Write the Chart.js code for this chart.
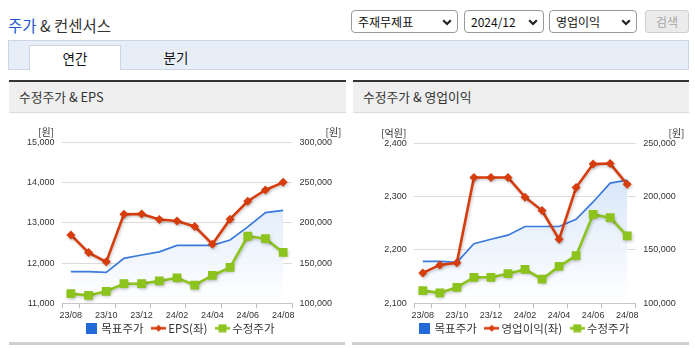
<!DOCTYPE html>
<html><head><meta charset="utf-8">
<script src="https://cdn.jsdelivr.net/npm/chart.js@4"></script>
<style>
*{box-sizing:border-box}
body{margin:0;width:695px;height:349px;position:relative;background:#fff;overflow:hidden;font-family:'Noto Sans CJK KR','Noto Sans',sans-serif;color:#222}
.abs{position:absolute}
.title{left:8px;top:14px;font-size:15.5px;line-height:22px;color:#333;white-space:nowrap}
.title b{font-weight:normal;color:#2259cf}
.sel{top:10px;height:23px;border:1px solid #9a9a9a;border-radius:4px;background:#fff;font-size:12px;line-height:21px;padding-left:6px;color:#111;white-space:nowrap}
.sel svg{position:absolute;top:8px}
.btn{left:645px;top:10px;width:44px;height:23px;border:1px solid #cfcfcf;border-radius:3px;background:#ebebeb;color:#a5a5a5;font-size:12px;line-height:21px;text-align:center}
.tabbar{left:8px;top:40px;width:681px;height:30px;background:#e8eef8;border:1px solid #cad6e7}
.tab{top:45px;height:25px;font-size:13.5px;line-height:24px;text-align:center;color:#111}
.tab.on{left:29px;width:92px;background:#fff;border:1px solid #cad6e7;border-bottom:none}
.phead{top:80px;height:33px;border-top:2px solid #333;border-bottom:1px solid #dadada;background:#efefef;font-size:12.8px;line-height:30px;padding-left:10px;color:#333;white-space:nowrap}
.pfoot{top:342px;height:3px;background:#cfcfcf}
.cw{top:113px}
</style>
</head><body>
<div class="abs title"><b>주가</b> &amp; 컨센서스</div>

<div class="abs sel" style="left:351px;width:107px">주재무제표<svg style="left:90px" width="10" height="7"><path d="M1.2 1.2 L5 5 L8.8 1.2" stroke="#222" stroke-width="2.2" fill="none"/></svg></div>
<div class="abs sel" style="left:464px;width:80px">2024/12<svg style="left:63px" width="10" height="7"><path d="M1.2 1.2 L5 5 L8.8 1.2" stroke="#222" stroke-width="2.2" fill="none"/></svg></div>
<div class="abs sel" style="left:549px;width:88px">영업이익<svg style="left:71px" width="10" height="7"><path d="M1.2 1.2 L5 5 L8.8 1.2" stroke="#222" stroke-width="2.2" fill="none"/></svg></div>
<div class="abs btn">검색</div>

<div class="abs tabbar"></div>
<div class="abs tab on">연간</div>
<div class="abs tab" style="left:150px;width:52px">분기</div>

<div class="abs phead" style="left:9px;width:337px">수정주가 &amp; EPS</div>
<div class="abs phead" style="left:353px;width:336px">수정주가 &amp; 영업이익</div>
<div class="abs pfoot" style="left:9px;width:336px"></div>
<div class="abs pfoot" style="left:352px;width:337px"></div>

<div class="abs cw" style="left:9px;width:337px;height:231px"><canvas id="c1" width="337" height="231"></canvas></div>
<div class="abs cw" style="left:353px;width:336px;height:231px"><canvas id="c2" width="336" height="231"></canvas></div>

<script>
// ---- data ----
const months = ['23/08','23/09','23/10','23/11','23/12','24/01','24/02','24/03','24/04','24/05','24/06','24/07','24/08'];
const targetPrice = [139300,139300,138400,155800,160000,163900,172000,172000,172000,178700,195000,212700,215500];
const adjPrice = [111900,109800,114900,124300,124400,127800,131700,122600,134600,144600,183300,180300,163200];
const eps = [12700,12260,12030,13210,13220,13080,13045,12910,12470,13090,13535,13815,14005];
const opProfit = [2157,2172,2176,2336,2336,2336,2299,2274,2220,2317,2361,2362,2323];
const epsTicks = [11000,12000,13000,14000,15000];
const priceTicksL = [100000,150000,200000,250000,300000];
const opTicks = [2100,2200,2300,2400];
const priceTicksR = [100000,150000,200000,250000];
const seriesNames = ['목표주가','EPS(좌)','수정주가','영업이익(좌)'];
const unitWon = '[원]', unitEok = '[억원]';

// ---- styles ----
const RED = '#d73c0c', GREEN = '#8cc31d', BLUE = '#3b79dc', BLUEBOX = '#2369d8';
const CJK = "'Noto Sans CJK KR','Noto Sans',sans-serif";
const TICK_FONT = {family:"'Liberation Sans Narrow','Liberation Sans',Arial,sans-serif", size:9};

function legendIcon(kind, color){
  const c = document.createElement('canvas');
  const x = c.getContext('2d');
  if (kind === 'box'){ c.width = 11; c.height = 11; x.fillStyle = color; x.fillRect(0,0,11,11); return c; }
  c.width = 15; c.height = 9;
  x.strokeStyle = color; x.lineWidth = 2.5;
  x.beginPath(); x.moveTo(0,4.5); x.lineTo(15,4.5); x.stroke();
  x.fillStyle = color;
  if (kind === 'diamond'){ x.beginPath(); x.moveTo(7.5,1); x.lineTo(11,4.5); x.lineTo(7.5,8); x.lineTo(4,4.5); x.closePath(); x.fill(); }
  else { x.fillRect(3.5,0.5,8,8); }
  return c;
}

const unitPlugin = {
  id:'units',
  afterDraw(chart, args, opts){
    const ctx = chart.ctx, l = chart.scales.yL, a = chart.chartArea;
    ctx.save();
    ctx.font = '10px ' + CJK; ctx.fillStyle = '#333'; ctx.textBaseline = 'middle'; ctx.textAlign = 'right';
    ctx.fillText(opts.left, l.right - 8, a.top - 10);
    ctx.fillText(opts.right, chart.width - 4.5, a.top - 10);
    ctx.restore();
  }
};
const shadowPlugin = {
  id:'lineShadow',
  beforeDatasetDraw(chart, args){
    if (chart.data.datasets[args.index].shadow){
      const c = chart.ctx; c.save();
      c.shadowColor = 'rgba(0,0,0,0.22)'; c.shadowBlur = 3; c.shadowOffsetX = 1; c.shadowOffsetY = 1.5;
    }
  },
  afterDatasetDraw(chart, args){
    if (chart.data.datasets[args.index].shadow) chart.ctx.restore();
  }
};

function fmt(v){ return Number(v).toLocaleString('en-US'); }

function makeChart(id, o){
  const datasets = [
    { label: seriesNames[0], data: targetPrice, yAxisID:'yR', order:3,
      borderColor: BLUE, borderWidth:1.7, pointRadius:0, pointHoverRadius:0, tension:0,
      fill:'start',
      backgroundColor(ctx){
        const ch = ctx.chart, a = ch.chartArea;
        if (!a) return 'rgba(0,0,0,0)';
        const g = ch.ctx.createLinearGradient(0, a.top, 0, a.bottom);
        g.addColorStop(0, 'rgba(204,223,247,0.95)');
        g.addColorStop(1, 'rgba(255,255,255,0.95)');
        return g;
      },
      legendIcon: legendIcon('box', BLUEBOX) },
    { label: o.leftName, data: o.leftData, yAxisID:'yL', order:1, shadow:true,
      borderColor: RED, backgroundColor: RED, borderWidth:2.6, tension:0,
      pointStyle:'rectRot', pointRadius:4.5, pointHoverRadius:4.5, pointBorderWidth:0,
      legendIcon: legendIcon('diamond', RED) },
    { label: seriesNames[2], data: adjPrice, yAxisID:'yR', order:2, shadow:true,
      borderColor: GREEN, backgroundColor: GREEN, borderWidth:2.6, tension:0,
      pointStyle:'rect', pointRadius:6.2, pointHoverRadius:6.2, pointBorderWidth:0,
      legendIcon: legendIcon('square', GREEN) }
  ];
  return new Chart(document.getElementById(id), {
    type:'line',
    data:{ labels: months, datasets },
    options:{
      responsive:false, animation:false, devicePixelRatio:1,
      layout:{ padding:{ top:o.top, left:o.padL, right:0, bottom:0 } },
      plugins:{
        tooltip:{enabled:false},
        units:{ left:o.unitL, right:unitWon },
        legend:{ position:'bottom',
          labels:{ usePointStyle:true, pointStyleWidth:8, padding:11, color:'#333',
            font:{ family:CJK, size:11.5 },
            generateLabels(chart){
              return chart.data.datasets.map((d,i)=>({ text:d.label, pointStyle:d.legendIcon, datasetIndex:i,
                hidden:false, fontColor:'#333', lineWidth:0, strokeStyle:'rgba(0,0,0,0)', fillStyle:'rgba(0,0,0,0)' }));
            } } }
      },
      scales:{
        x:{ type:'category', offset:true,
          grid:{ offset:true, drawOnChartArea:false, drawTicks:true, tickLength:5,
            color(c){ return (c.type !== 'tick' || c.index === 0 || c.index % 2 === 1) ? '#bdbdbd' : 'rgba(0,0,0,0)'; } },
          border:{ color:'#c6c6c6' },
          ticks:{ autoSkip:false, maxRotation:0, padding:1.5, color:'#333', font:TICK_FONT,
            callback(v,i){ return i % 2 === 0 ? this.getLabelForValue(v) : ''; } },
          afterFit(s){ s.height = o.xh; s._computeLabelArea = function(){ return undefined; }; } },
        yL:{ position:'left', min:o.lTicks[0], max:o.lTicks[o.lTicks.length-1], afterBuildTicks(s){ s.ticks = o.lTicks.map(v=>({value:v})); },
          grid:{ color:'#dcdcdc', drawTicks:false }, border:{ display:false },
          ticks:{ padding:7.5, color:'#333', font:TICK_FONT, callback:fmt },
          afterFit(s){ s.width = o.lw; } },
        yR:{ position:'right', min:o.rTicks[0], max:o.rTicks[o.rTicks.length-1], afterBuildTicks(s){ s.ticks = o.rTicks.map(v=>({value:v})); },
          grid:{ drawOnChartArea:false, drawTicks:false }, border:{ display:false },
          ticks:{ padding:7.5, color:'#333', font:TICK_FONT, callback:fmt },
          afterFit(s){ s.width = o.rw; } }
      }
    },
    plugins:[unitPlugin, shadowPlugin]
  });
}

makeChart('c1', { leftName: seriesNames[1], leftData: eps, lTicks: epsTicks, rTicks: priceTicksL,
  unitL: unitWon, top:29.3, padL:7, lw:46, rw:54, xh:8.2 });
makeChart('c2', { leftName: seriesNames[3], leftData: opProfit, lTicks: opTicks, rTicks: priceTicksR,
  unitL: unitEok, top:30.3, padL:8, lw:53.3, rw:53.3, xh:8.2 });
</script>
</body></html>
